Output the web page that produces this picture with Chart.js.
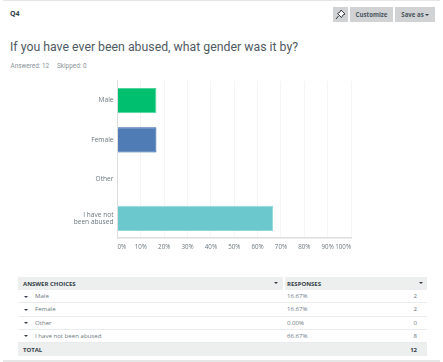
<!DOCTYPE html>
<html>
<head>
<meta charset="utf-8">
<script src="https://cdn.jsdelivr.net/npm/chart.js@4"></script>
<style>
html, body { margin: 0; padding: 0; background: #fff; }
body { width: 443px; height: 362px; position: relative; overflow: hidden; font-family: "Open Sans", sans-serif; color: #333e48; }
.abs { position: absolute; white-space: nowrap; }
#frame { left: 3px; top: 0; width: 437px; height: 362px; border: 1px solid #e6e6e6; border-width: 1px 0 2px 0; box-sizing: border-box; }
.btn { background: #d0d2d3; height: 15px; line-height: 15px; top: 7px; text-align: center; font-size: 6.1px; font-weight: 700; color: #4a555e; }
#div_canva { position: absolute; left: 0; top: 70px; width: 443px; height: 195px; }
#tabela { position: absolute; left: 18px; top: 277px; width: 409px; border-collapse: separate; border-spacing: 0; table-layout: fixed; font-size: 6.1px; color: #6b787f; }
#tabela td, #tabela th { height: 13.2px; line-height: 12px; padding: 0; box-sizing: border-box; font-weight: 400; text-align: left; position: relative; overflow: hidden; }
#tabela tr.corpo td { border-bottom: 1px solid #e9ecec; }
#tabela tr.cinza td, #tabela tr.cinza th { background: #edeeee; color: #333e48; font-weight: 700; font-size: 6px; }
#tabela .num { text-align: right; padding-right: 10px; }
.seta { display: inline-block; width: 0; height: 0; border-left: 2px solid transparent; border-right: 2px solid transparent; border-top: 2.5px solid #333e48; vertical-align: middle; }
</style>
</head>
<body>
<div id="frame" class="abs"></div>
<div class="abs" style="left:10px;top:7px;font-size:7px;font-weight:700;line-height:14px;">Q4</div>
<div class="abs btn" style="left:333px;width:15px;">
  <svg width="11" height="11" viewBox="0 0 11 11" style="margin-top:2px"><path d="M6 1 L10 5 L8 6 L6.5 8.5 L2.5 4.5 L5 3 Z M3.5 7 L1 10" fill="#fff" stroke="#333e48" stroke-width="1"/></svg>
</div>
<div class="abs btn" style="left:350px;width:43px;">Customize</div>
<div class="abs btn" style="left:395px;width:40px;">Save as<span class="seta" style="margin-left:1px"></span></div>
<div class="abs" style="left:10px;top:37px;font-family:Roboto,sans-serif;font-size:12.3px;line-height:20px;color:#4f5a62;">If you have ever been abused, what gender was it by?</div>
<div class="abs" style="left:10.5px;top:61px;font-family:Roboto,sans-serif;font-size:6.4px;line-height:10px;color:#8b9398;">Answered: 12</div>
<div class="abs" style="left:57px;top:61px;font-family:Roboto,sans-serif;font-size:6.4px;line-height:10px;color:#8b9398;">Skipped: 0</div>

<div id="div_canva"><canvas id="myChart"></canvas></div>

<table id="tabela">
  <colgroup><col style="width:265px"><col style="width:100px"><col style="width:44px"></colgroup>
  <thead></thead>
  <tbody></tbody>
</table>

<script>
const categorias = ['Male', 'Female', 'Other', 'I have not been abused'];
const rotulos = ['Male', 'Female', 'Other', ['I have not', 'been abused']];
const porcentagens = [16.67, 16.67, 0, 66.67];
const respostas = [2, 2, 0, 8];
const totalRespostas = 12;
const ticksX = [0, 10, 20, 30, 40, 50, 60, 70, 80, 90, 100];
const coresBarras = ['#00bf6f', '#507cb6', '#f05b24', '#6bc8cd'];
const coresBordas = ['#4fd3a0', '#2f5f9f', '#f05b24', '#8fd8dc'];

function construirTabela() {
    let cabecalho = `<tr class="cinza">
        <th><span style="margin-left:5px">ANSWER CHOICES</span><span class="seta" style="position:absolute;right:5px;top:5px"></span></th>
        <th colspan="2" style="border-left:2px solid #fff"><span style="margin-left:2px">RESPONSES</span><span class="seta" style="position:absolute;right:4px;top:5px"></span></th>
    </tr>`;
    document.querySelector('#tabela thead').innerHTML = cabecalho;

    let linhas = '';
    categorias.forEach((categoria, i) => {
        linhas += `<tr class="corpo">
            <td><span class="seta" style="margin-left:6px;margin-right:7px"></span>${categoria}</td>
            <td style="padding-left:4px">${porcentagens[i].toFixed(2)}%</td>
            <td class="num">${respostas[i]}</td>
        </tr>`;
    });
    linhas += `<tr class="cinza">
        <td><span style="margin-left:5px">TOTAL</span></td>
        <td></td>
        <td class="num">${totalRespostas}</td>
    </tr>`;
    document.querySelector('#tabela tbody').innerHTML = linhas;
}

function construirGrafico() {
    const ctx = document.getElementById('myChart');

    new Chart(ctx, {
        type: 'bar',
        data: {
            labels: rotulos,
            datasets: [{
                data: porcentagens,
                backgroundColor: coresBarras,
                borderColor: coresBordas,
                borderWidth: 1,
                barPercentage: 0.64,
                categoryPercentage: 1
            }]
        },
        options: {
            indexAxis: 'y',
            responsive: true,
            maintainAspectRatio: false,
            animation: false,
            layout: { padding: { top: 6, right: 92, left: 0, bottom: 0 } },
            scales: {
                x: {
                    min: 0,
                    max: 100,
                    afterBuildTicks: axis => { axis.ticks = ticksX.map(v => ({ value: v })); },
                    afterFit: axis => { axis.height = 27; },
                    ticks: {
                        align: 'inner',
                        maxRotation: 0,
                        autoSkip: false,
                        padding: 6,
                        color: '#6b787f',
                        font: { family: 'Open Sans', size: 6.2 },
                        callback: v => v + '%'
                    },
                    grid: { color: '#f4f5f5', lineWidth: 1, drawTicks: false },
                    border: { color: '#dcdddd', width: 1.5 }
                },
                y: {
                    afterFit: axis => { axis.width = 117.5; },
                    ticks: {
                        padding: 4,
                        color: '#6b787f',
                        font: { family: 'Open Sans', size: 6.6, lineHeight: 1.05 }
                    },
                    grid: { display: false, drawTicks: false },
                    border: { color: '#dcdddd', width: 1 }
                }
            },
            plugins: {
                legend: { display: false },
                title: { display: false },
                tooltip: { enabled: false }
            }
        }
    });
}

construirTabela();
construirGrafico();
</script>
</body>
</html>
